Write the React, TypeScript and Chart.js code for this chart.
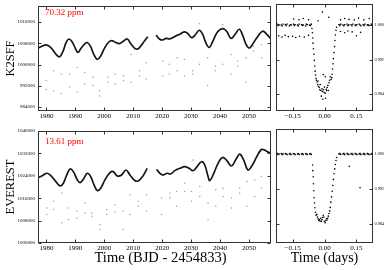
import React, { useEffect, useRef } from "react";
import { Chart, registerables } from "chart.js";

Chart.register(...registerables);

const SERIF = "'Liberation Serif', 'Times New Roman', serif";

// ---------- Left panels: light curve trend (null = data gap) ----------
const k2sffTime = [1977.1, 1978.25, 1979.97, 1981.7, 1983.42, 1984.57, 1985.72, 1986.87, 1987.79, 1988.82, 1989.97, 1990.89, 1992.04, 1993.19, 1994.11, 1995.26, 1996.41, 1997.56, 1998.71, 2000.09, 2001.47, 2002.62, 2003.77, 2005.26, 2006.41, 2007.9, 2009.05, 2010.43, 2011.58, 2012.73, 2013.88, 2015.03, 2016.5, 2017.9, 2019.05, 2020.2, 2021.35, 2022.5, 2023.65, 2024.8, 2025.95, 2027.67, 2028.82, 2030.2, 2031.35, 2032.85, 2034.0, 2035.15, 2036.3, 2037.44, 2039.17, 2040.89, 2042.27, 2043.77, 2045.15, 2046.64, 2047.79, 2048.94, 2050.09, 2051.24, 2052.96, 2054.69, 2056.18, 2057.56];
const k2sffFlux = [1006230, 1006840, 1007450, 1006230, 1003780, 1002930, 1005010, 1008430, 1009660, 1008680, 1006230, 1004640, 1006230, 1007700, 1008310, 1006840, 1003780, 1001950, 1003170, 1006230, 1008430, 1009040, 1008430, 1007940, 1008680, 1009660, 1008070, 1006230, 1005860, 1007210, 1008920, 1010510, null, 1011120, 1009660, 1009290, 1009900, 1009660, 1010150, 1010880, 1011370, 1012350, 1011740, 1010150, 1011120, 1012960, 1011370, 1008070, 1006480, 1008680, 1012350, 1013570, 1012590, 1009900, 1011370, 1013330, 1011120, 1007700, 1006230, 1007700, 1010510, 1012590, 1011370, 1009660];

const k2sffOutTime = [1979.97, 1979.97, 1982.5, 1982.5, 1985.15, 1985.15, 1988.0, 1988.0, 1990.66, 1990.66, 1993.2, 1993.2, 1996.07, 1996.07, 1998.36, 1998.36, 2001.24, 2001.24, 2003.77, 2003.77, 2006.64, 2006.64, 2009.28, 2009.28, 2012.16, 2012.16, 2014.46, 2014.46, 2020.2, 2020.2, 2022.5, 2022.5, 2025.15, 2025.15, 2027.67, 2027.67, 2030.55, 2030.55, 2032.85, 2032.85, 2035.72, 2035.72, 2038.36, 2038.36, 2040.89, 2040.89, 2043.77, 2043.77, 2046.07, 2046.07, 2048.94, 2048.94, 2051.58, 2051.58, 2054.34, 2054.34];
const k2sffOutFlux = [994000, 990570, 997670, 990090, 996450, 989110, 996450, 991550, 998890, 989720, 997060, 992780, 995220, 992160, 990090, 988130, 995220, 993390, 996450, 992780, 995830, 994000, 1003780, 993390, 997670, 995830, 1000730, 994610, 1001340, 995830, 1000110, 996450, 1002560, 997670, 1001950, 995830, 997670, 996450, 1000110, 1015400, 1002560, 992160, 999500, 997670, 1000110, 1015040, 1003780, 996450, 1001340, 999500, 1002560, 993390, 1006840, 1005010, 1007450, 1002560];

const everestTime = [1977.24, 1978.41, 1980.14, 1981.28, 1983.0, 1984.72, 1985.86, 1987.03, 1988.17, 1989.31, 1990.69, 1991.62, 1992.76, 1994.14, 1995.31, 1996.45, 1997.59, 1998.76, 2000.24, 2001.97, 2003.1, 2004.48, 2006.0, 2007.48, 2008.86, 2010.59, 2011.72, 2013.24, 2014.83, 2016.5, 2018.07, 2019.21, 2020.34, 2021.72, 2022.9, 2024.38, 2026.1, 2027.83, 2029.31, 2030.69, 2031.86, 2033.59, 2034.72, 2035.86, 2036.45, 2037.83, 2039.31, 2040.83, 2042.21, 2043.93, 2045.66, 2046.79, 2048.17, 2049.66, 2051.17, 2052.55, 2054.28, 2055.41, 2056.55, 2057.38];
const everestFlux = [1023360, 1023950, 1024900, 1024310, 1022300, 1020410, 1021360, 1024310, 1026430, 1025490, 1022540, 1021590, 1022770, 1024900, 1023720, 1020770, 1018760, 1019590, 1022540, 1025130, 1025490, 1023950, 1024310, 1026080, 1024310, 1022300, 1022180, 1023720, 1026670, null, 1026310, 1024900, 1024310, 1024900, 1024660, 1025840, 1026670, 1027260, 1026670, 1025840, 1027020, 1029030, 1027850, 1023720, 1022300, 1024900, 1028440, 1030560, 1029620, 1027500, 1030210, 1031740, 1029620, 1026080, 1027850, 1030560, 1033390, 1033160, 1032450, 1032210];

const everestOutTime = [1980.14, 1980.14, 1982.44, 1982.44, 1985.31, 1985.31, 1987.61, 1987.61, 1990.48, 1990.48, 1993.36, 1993.36, 1995.66, 1995.66, 1998.53, 1998.53, 2000.83, 2000.83, 2003.7, 2003.7, 2006.57, 2006.57, 2008.87, 2008.87, 2011.74, 2011.74, 2014.61, 2014.61, 2019.79, 2019.79, 2022.66, 2022.66, 2024.96, 2024.96, 2027.83, 2027.83, 2030.13, 2030.13, 2033.0, 2033.0, 2035.86, 2035.86, 2038.52, 2038.52, 2041.03, 2041.03, 2043.93, 2043.93, 2046.79, 2046.79, 2049.31, 2049.31, 2051.97, 2051.97, 2054.28, 2054.28, 2030.7];
const everestOutFlux = [1012500, 1010150, 1014870, 1011920, 1017820, 1007200, 1012500, 1008380, 1011330, 1008970, 1014280, 1010740, 1010740, 1009560, 1006610, 1004840, 1011920, 1010150, 1013690, 1010970, 1011330, 1004840, 1017230, 1010150, 1014870, 1013100, 1017230, 1011330, 1016050, 1010150, 1017820, 1016050, 1018410, 1013100, 1021360, 1018410, 1018410, 1014870, 1020180, 1016640, 1014280, 1008380, 1018990, 1013100, 1019580, 1016640, 1016050, 1012500, 1019580, 1017820, 1021940, 1013100, 1022540, 1016640, 1023720, 1019580, 1029600];

// ---------- Right panels: folded transit ----------
const foldBaseTime = [-0.222, -0.218, -0.214, -0.203, -0.199, -0.195, -0.184, -0.18, -0.176, -0.165, -0.161, -0.157, -0.146, -0.142, -0.138, -0.127, -0.123, -0.119, -0.108, -0.104, -0.1, -0.089, -0.085, -0.081, -0.07, -0.066, -0.062, 0.068, 0.072, 0.076, 0.087, 0.091, 0.095, 0.106, 0.11, 0.114, 0.125, 0.129, 0.133, 0.144, 0.148, 0.152, 0.163, 0.167, 0.171, 0.182, 0.186, 0.19, 0.201, 0.205, 0.209, 0.22, 0.224];
const k2sffFoldBaseFlux = [1.0002, 0.9999, 1.0001, 1.0, 0.9998, 1.0002, 1.0001, 0.9999, 1.0002, 0.9998, 1.0001, 1.0, 1.0002, 0.9999, 1.0001, 1.0, 0.9998, 1.0002, 1.0001, 0.9999, 1.0, 0.9998, 1.0002, 1.0001, 1.0, 0.9999, 1.0002, 1.0001, 0.9999, 1.0002, 1.0, 0.9998, 1.0001, 1.0002, 0.9999, 1.0, 1.0001, 0.9998, 1.0002, 1.0, 0.9999, 1.0001, 1.0002, 1.0, 0.9998, 1.0001, 0.9999, 1.0002, 1.0, 1.0001, 0.9999, 1.0002, 1.0];
const everestFoldBaseFlux = [1.0001, 0.9999, 1.0, 1.0001, 0.9999, 1.0, 1.0001, 1.0, 0.9999, 1.0, 1.0001, 0.9999, 1.0001, 1.0, 0.9999, 1.0, 1.0001, 0.9999, 1.0, 1.0001, 0.9999, 1.0001, 1.0, 0.9999, 1.0, 1.0001, 0.9999, 1.0, 1.0001, 0.9999, 1.0, 1.0001, 0.9999, 1.0001, 1.0, 0.9999, 1.0, 1.0001, 0.9999, 1.0001, 1.0, 0.9999, 1.0, 1.0001, 0.9999, 1.0, 1.0001, 0.9999, 1.0001, 1.0, 0.9999, 1.0, 1.0001];

const k2sffFoldTime = [-0.059, -0.057, -0.055, -0.054, -0.052, -0.05, -0.048, -0.046, -0.044, -0.042, -0.04,
  -0.038, -0.035, -0.032, -0.03, -0.028, -0.025, -0.022, -0.02, -0.018, -0.015, -0.012, -0.01, -0.008, -0.006, -0.005, -0.002, 0.0, 0.003, 0.004, 0.005, 0.008, 0.01, 0.013, 0.016, 0.018, 0.021, 0.024, 0.027,
  0.031, 0.034, 0.036, 0.038, 0.04, 0.042, 0.045, 0.047, 0.049, 0.051, 0.054, 0.057,
  -0.215, -0.2, -0.185, -0.17, -0.15, -0.135, -0.118, -0.095, -0.075,
  -0.145, -0.12, -0.1, -0.075, -0.03, -0.01, 0.02,
  0.075, 0.095, 0.115, 0.14, 0.16, 0.185, 0.21,
  0.075, 0.095, 0.11, 0.13, 0.15, 0.17];
const k2sffFoldFlux = [0.9992, 0.9982, 0.997, 0.9958, 0.9945, 0.9932, 0.9918, 0.9905, 0.9893, 0.9884, 0.9876,
  0.9872, 0.9868, 0.9862, 0.987, 0.9858, 0.9855, 0.985, 0.9862, 0.9848, 0.9835, 0.9852, 0.9846, 0.9828, 0.9885, 0.985, 0.9844, 0.9856, 0.9842, 0.988, 0.983, 0.9851, 0.9848, 0.9855, 0.986, 0.9848, 0.9866, 0.9872, 0.988,
  0.9874, 0.9878, 0.9886, 0.9898, 0.991, 0.9922, 0.9936, 0.995, 0.9964, 0.9977, 0.9988, 0.9995,
  0.9975, 0.9972, 0.9976, 0.9973, 0.9974, 0.9971, 0.9974, 0.9972, 0.9976,
  1.0014, 1.0012, 1.0015, 1.0012, 1.001, 1.003, 1.0018,
  1.0012, 1.0015, 1.0013, 1.0012, 1.0016, 1.0012, 1.0015,
  0.9985, 0.9982, 0.9986, 0.9984, 0.9975, 0.9983];

const everestFoldTime = [-0.056, -0.055, -0.053, -0.052, -0.05, -0.049, -0.047, -0.045, -0.043, -0.04,
  -0.036, -0.033, -0.03, -0.027, -0.024, -0.021, -0.018, -0.015, -0.012, -0.009, -0.006, -0.003, 0.0, 0.003, 0.006, 0.009, 0.012, 0.015, 0.018, 0.021, 0.024,
  0.027, 0.03, 0.033, 0.036, 0.039, 0.042, 0.045, 0.048, 0.051, 0.054, 0.057,
  0.117, 0.167];
const everestFoldFlux = [0.9975, 0.9962, 0.9948, 0.9932, 0.9916, 0.99, 0.9888, 0.9877, 0.9867, 0.986,
  0.9862, 0.9856, 0.9852, 0.9848, 0.985, 0.9847, 0.9853, 0.9846, 0.985, 0.9855, 0.986, 0.9856, 0.9846, 0.9843, 0.9848, 0.9852, 0.9849, 0.9853, 0.9858, 0.9864, 0.987,
  0.9878, 0.989, 0.9902, 0.9915, 0.9928, 0.9942, 0.9955, 0.9966, 0.9976, 0.9985, 0.9992,
  0.9972, 0.9923];

// ---------- Ticks & labels ----------
const timeTicks = [1980, 1990, 2000, 2010, 2020, 2030, 2040, 2050];
const k2sffYTicks = [984000, 992000, 1000000, 1008000, 1016000];
const everestYTicks = [1000000, 1008000, 1016000, 1024000, 1032000, 1040000];
const foldXTicks = [-0.15, 0, 0.15];
const foldYTicks = [0.984, 0.992, 1.0];
const panelNames = ["K2SFF", "EVEREST"];
const precisionLabels = ["70.32 ppm", "13.61 ppm"];
const xTitles = ["Time (BJD - 2454833)", "Time (days)"];

function pairs(xs: number[], ys: (number | null)[]) {
  return xs.map((x, i) => ({ x, y: ys[i] }));
}

const setTicks = (values: number[]) => (s: any) => {
  s.ticks = values.map((v) => ({ value: v }));
};

type FrameOpts = { label?: string; labelDy?: number; xTitle?: string; xTitleDx?: number; xTitleDy?: number; xTitleSize?: number };

function framePlugin(o: FrameOpts = {}) {
  return {
    id: "frame",
    afterDraw(chart: any) {
      const { ctx, chartArea: a, scales } = chart;
      ctx.save();
      ctx.strokeStyle = "#333";
      ctx.lineWidth = 1;
      const L = Math.round(a.left) + 0.5;
      const R = Math.round(a.right) - 0.5;
      const T = Math.round(a.top) + 0.5;
      const B = Math.round(a.bottom) - 0.5;
      ctx.strokeRect(L, T, R - L, B - T);
      ctx.beginPath();
      for (const t of scales.x.ticks) {
        const p = Math.round(scales.x.getPixelForValue(t.value)) + 0.5;
        ctx.moveTo(p, B); ctx.lineTo(p, B - 3);
        ctx.moveTo(p, T); ctx.lineTo(p, T + 3);
      }
      for (const t of scales.y.ticks) {
        const p = Math.round(scales.y.getPixelForValue(t.value)) + 0.5;
        ctx.moveTo(L, p); ctx.lineTo(L + 3, p);
        ctx.moveTo(R, p); ctx.lineTo(R - 3, p);
      }
      ctx.stroke();
      if (o.label) {
        ctx.fillStyle = "#ff0000";
        ctx.font = `9px ${SERIF}`;
        ctx.textBaseline = "middle";
        ctx.textAlign = "left";
        ctx.fillText(o.label, a.left + 7, a.top + (o.labelDy ?? 7));
      }
      if (o.xTitle) {
        ctx.fillStyle = "#000";
        ctx.font = `${o.xTitleSize ?? 14}px ${SERIF}`;
        ctx.textBaseline = "middle";
        ctx.textAlign = "center";
        ctx.fillText(o.xTitle, (a.left + a.right) / 2 + (o.xTitleDx ?? 0), a.bottom + (o.xTitleDy ?? 15));
      }
      ctx.restore();
    },
  };
}

const font = (size: number) => ({ family: SERIF, size });

function leftConfig(opts: {
  lineT: number[]; lineF: (number | null)[]; outT: number[]; outF: number[]; yTicks: number[];
  yMin: number; yMax: number; yTitle: string; label: string; xTitle?: string; xHeight: number; labelDy: number;
}): any {
  return {
    type: "line",
    data: {
      datasets: [
        { data: pairs(opts.lineT, opts.lineF), borderColor: "#151515", borderWidth: 1.7, pointRadius: 0, tension: 0.4, spanGaps: false, fill: false },
        { type: "scatter", data: pairs(opts.outT, opts.outF), backgroundColor: "#a0a0a0", borderWidth: 0, pointRadius: 0.75, showLine: false },
      ],
    },
    options: {
      responsive: false, animation: false, events: [],
      layout: { padding: { top: 4, right: 5, left: 0, bottom: 0 } },
      plugins: { legend: { display: false }, tooltip: { enabled: false } },
      scales: {
        x: {
          type: "linear", min: 1977.1, max: 2057.6,
          grid: { display: false, drawTicks: false }, border: { display: false },
          afterBuildTicks: setTicks(timeTicks),
          ticks: { autoSkip: false, maxRotation: 0, padding: 1, color: "#000", font: font(7), callback: (v: number) => String(v) },
          afterFit: (s: any) => { s.height = opts.xHeight; },
        },
        y: {
          type: "linear", min: opts.yMin, max: opts.yMax,
          grid: { display: false, drawTicks: false }, border: { display: false },
          afterBuildTicks: setTicks(opts.yTicks),
          ticks: { autoSkip: false, padding: 3, color: "#000", font: font(5), callback: (v: number) => String(Math.round(v)) },
          title: { display: true, text: opts.yTitle, color: "#000", font: font(12.5), padding: { top: 3, bottom: 0 } },
          afterFit: (s: any) => { s.width = 38; },
        },
      },
    },
    plugins: [framePlugin({ label: opts.label, labelDy: opts.labelDy, xTitle: opts.xTitle, xTitleDx: 6, xTitleDy: 15, xTitleSize: 14.5 })],
  };
}

function rightConfig(opts: {
  baseF: number[]; foldT: number[]; foldF: number[]; yMin: number; yMax: number; xTitle?: string; xHeight: number;
}): any {
  return {
    type: "scatter",
    data: {
      datasets: [
        { data: pairs(foldBaseTime, opts.baseF), backgroundColor: "#000", borderWidth: 0, pointRadius: 1, pointStyle: "rect" },
        { data: pairs(opts.foldT, opts.foldF), backgroundColor: "#000", borderWidth: 0, pointRadius: 0.8 },
      ],
    },
    options: {
      responsive: false, animation: false, events: [],
      layout: { padding: { top: 4, right: 0, left: 4, bottom: 0 } },
      plugins: { legend: { display: false }, tooltip: { enabled: false } },
      scales: {
        x: {
          type: "linear", min: -0.228, max: 0.228,
          grid: { display: false, drawTicks: false }, border: { display: false },
          afterBuildTicks: setTicks(foldXTicks),
          ticks: {
            autoSkip: false, maxRotation: 0, padding: 1, color: "#000", font: font(7),
            callback: (v: number) => (Math.abs(v) < 1e-9 ? "0.00" : v < 0 ? "\u2212" + Math.abs(v).toFixed(2) : v.toFixed(2)),
          },
          title: opts.xTitle ? { display: true, text: opts.xTitle, color: "#000", font: font(14), padding: { top: 0, bottom: 3.3 } } : { display: false },
          afterFit: (s: any) => { s.height = opts.xHeight; },
        },
        y: {
          type: "linear", position: "right", min: opts.yMin, max: opts.yMax,
          grid: { display: false, drawTicks: false }, border: { display: false },
          afterBuildTicks: setTicks(foldYTicks),
          ticks: { autoSkip: false, padding: 1.5, color: "#000", font: font(4.2), callback: (v: number) => v.toFixed(3) },
          afterFit: (s: any) => { s.width = 17; },
        },
      },
    },
    plugins: [framePlugin()],
  };
}

function Panel({ left, top, width, height, config }: { left: number; top: number; width: number; height: number; config: () => any }) {
  const ref = useRef<HTMLCanvasElement>(null);
  useEffect(() => {
    const chart = new Chart(ref.current as HTMLCanvasElement, config());
    return () => chart.destroy();
  }, []);
  return <canvas ref={ref} width={width} height={height} style={{ position: "absolute", left, top, width, height }} />;
}

export default function App() {
  return (
    <div style={{ position: "fixed", left: 0, top: 0, width: 390, height: 270, background: "#fff", overflow: "hidden" }}>
      <Panel left={0} top={0} width={276} height={125} config={() => leftConfig({
        lineT: k2sffTime, lineF: k2sffFlux, outT: k2sffOutTime, outF: k2sffOutFlux, yTicks: k2sffYTicks,
        yMin: 982500, yMax: 1022100, yTitle: panelNames[0], label: precisionLabels[0], xHeight: 14, labelDy: 7,
      })} />
      <Panel left={0} top={125} width={276} height={145} config={() => leftConfig({
        lineT: everestTime, lineF: everestFlux, outT: everestOutTime, outF: everestOutFlux, yTicks: everestYTicks,
        yMin: 1000000, yMax: 1040000, yTitle: panelNames[1], label: precisionLabels[1], xTitle: xTitles[0], xHeight: 27, labelDy: 11,
      })} />
      <Panel left={272} top={0} width={118} height={125} config={() => rightConfig({
        baseF: k2sffFoldBaseFlux, foldT: k2sffFoldTime, foldF: k2sffFoldFlux, yMin: 0.98006, yMax: 1.00487, xHeight: 14,
      })} />
      <Panel left={272} top={125} width={118} height={145} config={() => rightConfig({
        baseF: everestFoldBaseFlux, foldT: everestFoldTime, foldF: everestFoldFlux, yMin: 0.97966, yMax: 1.00571, xTitle: xTitles[1], xHeight: 27,
      })} />
    </div>
  );
}
